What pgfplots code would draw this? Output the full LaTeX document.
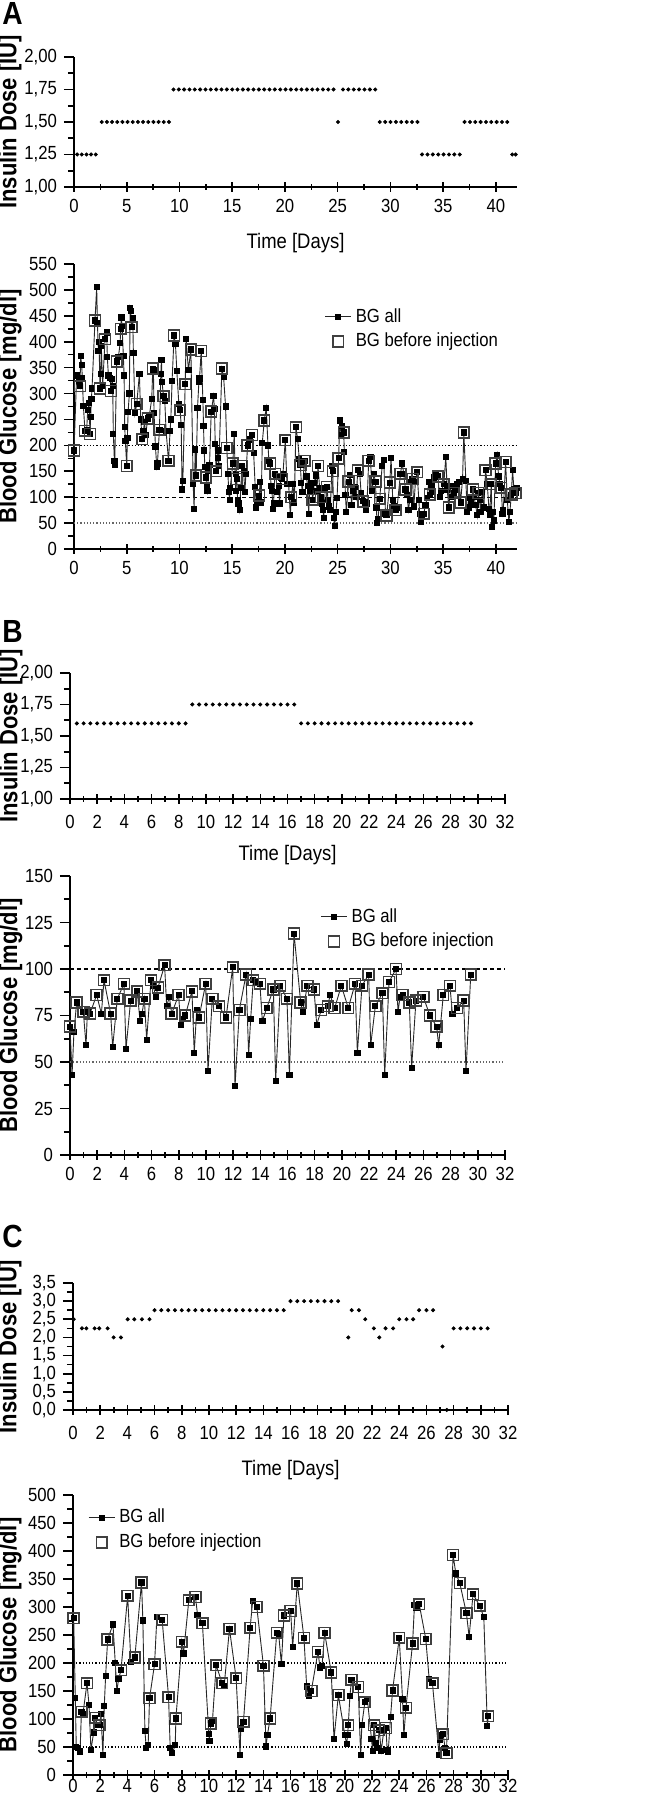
\documentclass[border=0pt]{standalone}
\usepackage{fontspec}
\setmainfont{Liberation Sans}[FakeStretch=0.88]
\usepackage{pgfplots}
\pgfplotsset{compat=1.18}

\pgfplotsset{
  panel/.style={
    scale only axis,
    axis lines=left,
    axis line style={-, line width=0.8pt},
    clip=false,
    xtick align=center, ytick align=outside,
    major tick length=5pt, minor tick length=3pt,
    every tick/.style={black, line width=0.8pt},
    tick label style={font=\fontsize{9.5}{10}\selectfont},
    /pgf/number format/assume math mode=true,
    /pgf/number format/1000 sep={},
    xlabel style={font=\fontsize{10.5}{12}\selectfont, at={(axis description cs:0.5,0)}, anchor=center},
    ylabel style={font=\bfseries\fontsize{12.5}{14}\selectfont, anchor=center},
    legend style={draw=none, fill=none, inner sep=0pt, font=\fontsize{9.5}{11}\selectfont, anchor=north west},
    legend cell align=left,
  },
  dose/.style={panel, minor y tick num=1,
    yticklabel style={/pgf/number format/.cd, fixed, fixed zerofill, precision=2, use comma}},
  bgall/.style={black!85, line width=0.45pt, mark=square*, mark size=1.3pt,
    mark options={solid, fill=black, draw=black},
    legend image code/.code={\draw[mark repeat=2, mark phase=2, ##1] plot coordinates {(0cm,0cm) (0.23cm,0cm) (0.46cm,0cm)};}},
  bgpre/.style={only marks, mark=square, mark size=2.7pt, mark options={draw=black!75, line width=0.8pt},
    legend image code/.code={\path[mark repeat=2, mark phase=2, ##1] plot coordinates {(0cm,0cm) (0.23cm,0cm) (0.46cm,0cm)};}},
  dosept/.style={only marks, mark=*, mark size=0.8pt, black},
  ref200/.style={black, line width=0.6pt, dash pattern=on 0.6pt off 1pt, forget plot},
  ref100/.style={black, line width=0.6pt, dash pattern=on 2pt off 1.5pt, forget plot},
  ref50/.style={black!60, line width=0.6pt, dash pattern=on 0.6pt off 1pt, forget plot},
}

\begin{document}
\begin{tikzpicture}
\useasboundingbox (0,0) rectangle (336pt,900pt);

% ---------------- A ----------------
\node[anchor=north west, inner sep=0pt, font=\bfseries\fontsize{16}{16}\selectfont] at (1pt,899pt) {A};

\begin{axis}[dose, at={(37pt,806.5pt)}, anchor=south west, width=221.5pt, height=65pt,
  xmin=0, xmax=42, ymin=1, ymax=2,
  xtick={0,5,10,15,20,25,30,35,40}, minor x tick num=1,
  ytick={1,1.25,1.5,1.75,2},
  xlabel={Time [Days]}, xlabel style={yshift=-28pt},
  ylabel={Insulin Dose [IU]}, ylabel style={at={(axis description cs:-0.1445,0.5)}}]
\addplot[dosept] coordinates {
(0.30,1.25) (0.74,1.25) (1.18,1.25) (1.62,1.25) (2.06,1.25)
(2.63,1.5) (3.12,1.5) (3.61,1.5) (4.10,1.5) (4.59,1.5) (5.08,1.5) (5.57,1.5)
(6.06,1.5) (6.55,1.5) (7.04,1.5) (7.53,1.5) (8.02,1.5) (8.51,1.5) (9.00,1.5)
(9.43,1.75) (9.94,1.75) (10.44,1.75) (10.95,1.75) (11.45,1.75) (11.96,1.75) (12.47,1.75)
(12.97,1.75) (13.48,1.75) (13.98,1.75) (14.49,1.75) (15.00,1.75) (15.50,1.75) (16.01,1.75)
(16.51,1.75) (17.02,1.75) (17.53,1.75) (18.03,1.75) (18.54,1.75) (19.04,1.75) (19.55,1.75)
(20.06,1.75) (20.56,1.75) (21.07,1.75) (21.57,1.75) (22.08,1.75) (22.59,1.75) (23.09,1.75)
(23.60,1.75) (24.10,1.75) (24.61,1.75)
(25.03,1.5)
(25.50,1.75) (26.01,1.75) (26.52,1.75) (27.03,1.75) (27.54,1.75) (28.05,1.75) (28.56,1.75)
(28.99,1.5) (29.50,1.5) (30.01,1.5) (30.52,1.5) (31.03,1.5) (31.54,1.5) (32.05,1.5) (32.56,1.5)
(33.00,1.25) (33.51,1.25) (34.02,1.25) (34.53,1.25) (35.04,1.25) (35.55,1.25) (36.06,1.25) (36.57,1.25)
(37.03,1.5) (37.54,1.5) (38.04,1.5) (38.55,1.5) (39.06,1.5) (39.56,1.5) (40.07,1.5) (40.58,1.5) (41.08,1.5)
(41.55,1.25) (41.87,1.25)
};
\end{axis}

\begin{axis}[panel, at={(37pt,625.5pt)}, anchor=south west, width=221.5pt, height=142.5pt,
  xmin=0, xmax=42, ymin=0, ymax=550,
  xtick={0,5,10,15,20,25,30,35,40}, minor x tick num=1,
  ytick={0,50,100,150,200,250,300,350,400,450,500,550}, minor y tick num=1,
  ylabel={Blood Glucose [mg/dl]}, ylabel style={at={(axis description cs:-0.1445,0.5)}},
  legend style={at={(axis description cs:0.565,0.86)}}]
\addplot[ref200] coordinates {(0,200) (42,200)};
\addplot[ref100] coordinates {(0,100) (42,100)};
\addplot[ref50] coordinates {(0,50) (42,50)};
\addplot[bgall] coordinates {
(0.00,190) (0.25,335) (0.44,325) (0.57,314) (0.63,372) (0.73,355) (0.79,330) (0.89,276)
(1.04,228) (1.20,230) (1.30,268) (1.42,282) (1.52,222) (1.58,255) (1.65,290) (1.71,310)
(1.99,441) (2.15,505) (2.22,437) (2.31,382) (2.37,400) (2.47,310) (2.53,338) (2.59,392)
(2.72,315) (2.94,405) (3.10,418) (3.16,370) (3.26,335) (3.42,330) (3.51,305) (3.61,328)
(3.67,315) (3.73,222) (3.83,170) (3.86,162) (4.05,362) (4.21,370) (4.37,397) (4.43,425)
(4.49,447) (4.56,430) (4.68,372) (4.75,335) (4.81,235) (4.87,208) (5.00,160) (5.06,215)
(5.13,265) (5.25,300) (5.32,465) (5.38,460) (5.47,428) (5.57,445) (5.63,378) (5.79,262)
(5.95,280) (6.20,338) (6.33,250) (6.46,212) (6.58,228) (6.68,245) (6.80,220) (6.99,252)
(7.15,258) (7.37,290) (7.47,348) (7.53,345) (7.59,262) (7.72,198) (7.85,158) (7.91,165)
(8.10,230) (8.23,338) (8.29,365) (8.35,322) (8.48,295) (8.61,285) (8.73,228) (8.96,170)
(9.11,228) (9.18,250) (9.30,325) (9.49,412) (9.62,395) (9.75,343) (9.94,280) (10.06,268)
(10.16,240) (10.25,115) (10.32,132) (10.54,318) (10.63,405) (10.85,345) (11.08,385)
(11.30,125) (11.39,77) (11.49,192) (11.58,142) (11.71,272) (11.84,322) (11.90,329)
(12.06,382) (12.22,288) (12.28,237) (12.34,190) (12.41,158) (12.50,138) (12.59,120)
(12.66,112) (12.75,150) (12.85,162) (13.01,265) (13.23,295) (13.32,270) (13.39,202)
(13.48,150) (13.61,190) (13.67,175) (13.73,160) (14.02,348) (14.18,333) (14.37,275)
(14.49,195) (14.59,145) (14.68,110) (14.75,95) (14.81,118) (15.06,165) (15.19,222)
(15.32,112) (15.38,145) (15.44,135) (15.51,95) (15.60,88) (15.70,75) (15.82,118)
(15.92,160) (16.08,150) (16.20,110) (16.30,145) (16.46,200) (16.55,210) (16.71,212)
(16.87,220) (17.03,186) (17.18,120) (17.28,80) (17.34,90) (17.55,103) (17.65,130)
(17.75,90) (17.85,205) (18.04,248) (18.23,272) (18.39,200) (18.48,170) (18.61,165)
(18.67,122) (18.77,112) (18.86,78) (18.92,88) (19.05,145) (19.18,140) (19.24,110)
(19.40,122) (19.49,88) (19.62,138) (19.72,135) (19.81,145) (20.03,210) (20.19,125)
(20.35,125) (20.51,65) (20.60,100) (20.76,125) (20.89,90) (21.04,235) (21.20,212)
(21.36,174) (21.46,162) (21.55,128) (21.65,110) (21.84,170) (22.03,140) (22.15,122)
(22.25,68) (22.34,112) (22.41,120) (22.50,127) (22.63,95) (22.78,128) (22.91,142)
(23.04,112) (23.13,160) (23.29,118) (23.42,100) (23.51,88) (23.61,75) (23.67,60)
(23.83,118) (23.99,120) (24.08,95) (24.18,82) (24.30,75) (24.46,160) (24.53,150)
(24.62,60) (24.72,45) (24.84,72) (24.94,98) (25.09,175) (25.19,248) (25.32,220)
(25.41,238) (25.57,225) (25.63,188) (25.73,105) (25.82,72) (26.04,130) (26.20,143)
(26.30,85) (26.46,112) (26.61,120) (26.77,100) (26.90,152) (27.09,145) (27.22,108)
(27.41,92) (27.56,90) (27.66,75) (27.78,88) (27.94,170) (28.10,178) (28.26,112)
(28.42,145) (28.58,130) (28.67,80) (28.73,50) (28.83,58) (28.99,97) (29.21,160)
(29.37,172) (29.53,68) (29.62,65) (29.68,72) (29.94,128) (30.06,175) (30.22,95)
(30.32,82) (30.47,75) (30.63,80) (30.95,145) (31.11,165) (31.27,145) (31.42,115)
(31.58,105) (31.71,75) (31.84,95) (31.96,130) (32.09,135) (32.22,82) (32.37,130)
(32.53,148) (32.69,95) (32.78,68) (32.91,52) (33.01,62) (33.16,68) (33.32,85)
(33.48,98) (33.64,130) (33.73,105) (33.89,122) (33.99,110) (34.11,138) (34.30,142)
(34.49,140) (34.68,100) (34.81,112) (35.06,125) (35.25,178) (35.38,115) (35.54,80)
(35.70,122) (35.82,100) (36.01,108) (36.14,115) (36.33,125) (36.52,130) (36.65,90)
(36.84,135) (36.96,225) (37.15,132) (37.28,72) (37.44,80) (37.53,98) (37.66,90)
(37.82,115) (37.94,100) (38.07,85) (38.23,65) (38.32,108) (38.45,95) (38.54,72)
(38.70,110) (38.86,80) (39.02,152) (39.18,125) (39.34,78) (39.40,65) (39.56,125)
(39.65,42) (39.72,72) (39.81,55) (39.97,165) (40.13,182) (40.25,140) (40.38,125)
(40.51,118) (40.63,68) (40.70,75) (40.92,168) (41.08,95) (41.23,52) (41.33,72)
(41.46,105) (41.58,152) (41.71,115) (41.87,108) (41.98,118)
};
\addlegendentry{BG all}
\addplot[bgpre] coordinates {
(0.00,190) (0.57,314) (1.04,228) (1.52,222) (1.99,441) (2.47,310) (2.94,405) (3.51,305)
(4.05,362) (4.43,425) (5.00,160) (5.47,428) (5.95,280) (6.46,212) (6.99,252) (7.47,348)
(8.10,230) (8.48,295) (8.96,170) (9.49,412) (10.06,268) (10.54,318) (11.08,385) (11.58,142)
(12.06,382) (12.50,138) (13.01,265) (13.48,150) (14.02,348) (14.49,195) (15.06,165)
(15.44,135) (15.92,160) (16.46,200) (16.87,220) (17.55,103) (18.04,248) (18.61,165)
(19.05,145) (19.72,135) (20.03,210) (20.60,100) (21.04,235) (21.46,162) (21.84,170)
(22.63,95) (23.13,160) (23.42,100) (23.99,120) (24.53,150) (25.09,175) (25.57,225)
(26.04,130) (26.46,112) (26.90,152) (27.41,92) (27.94,170) (28.58,130) (28.99,97)
(29.62,65) (29.94,128) (30.47,75) (30.95,145) (31.42,115) (32.09,135) (32.53,148)
(33.16,68) (33.73,105) (34.49,140) (35.06,125) (35.54,80) (36.01,108) (36.65,90)
(36.96,225) (37.82,115) (38.32,108) (39.02,152) (39.56,125) (39.97,165) (40.51,118)
(40.92,168) (41.46,105) (41.87,108)
};
\addlegendentry{BG before injection}
\end{axis}

% ---------------- B ----------------
\node[anchor=north west, inner sep=0pt, font=\bfseries\fontsize{16}{16}\selectfont] at (1pt,590pt) {B};

\begin{axis}[dose, at={(35pt,500.5pt)}, anchor=south west, width=217.5pt, height=63pt,
  xmin=0, xmax=32, ymin=1, ymax=2,
  xtick={0,2,...,32}, minor x tick num=1,
  ytick={1,1.25,1.5,1.75,2},
  xticklabel style={yshift=-2pt},
  xlabel={Time [Days]}, xlabel style={yshift=-28pt},
  ylabel={Insulin Dose [IU]}, ylabel style={at={(axis description cs:-0.136,0.5)}}]
\addplot[dosept] coordinates {
(0.5,1.6) (1.0,1.6) (1.5,1.6) (2.0,1.6) (2.5,1.6) (3.0,1.6) (3.5,1.6) (4.0,1.6) (4.5,1.6)
(5.0,1.6) (5.5,1.6) (6.0,1.6) (6.5,1.6) (7.0,1.6) (7.5,1.6) (8.0,1.6) (8.5,1.6)
(9.0,1.75) (9.5,1.75) (10.0,1.75) (10.5,1.75) (11.0,1.75) (11.5,1.75) (12.0,1.75) (12.5,1.75)
(13.0,1.75) (13.5,1.75) (14.0,1.75) (14.5,1.75) (15.0,1.75) (15.5,1.75) (16.0,1.75) (16.5,1.75)
(17.0,1.6) (17.5,1.6) (18.0,1.6) (18.5,1.6) (19.0,1.6) (19.5,1.6) (20.0,1.6) (20.5,1.6)
(21.0,1.6) (21.5,1.6) (22.0,1.6) (22.5,1.6) (23.0,1.6) (23.5,1.6) (24.0,1.6) (24.5,1.6)
(25.0,1.6) (25.5,1.6) (26.0,1.6) (26.5,1.6) (27.0,1.6) (27.5,1.6) (28.0,1.6) (28.5,1.6)
(29.0,1.6) (29.5,1.6)
};
\end{axis}

\begin{axis}[panel, at={(35pt,322.5pt)}, anchor=south west, width=217.5pt, height=139.5pt,
  xmin=0, xmax=32, ymin=0, ymax=150,
  xtick={0,2,...,32}, minor x tick num=1,
  ytick={0,25,50,75,100,125,150}, minor y tick num=1,
  ylabel={Blood Glucose [mg/dl]}, ylabel style={at={(axis description cs:-0.136,0.5)}},
  legend style={at={(axis description cs:0.575,0.90)}}]
\addplot[ref100] coordinates {(0,100) (32,100)};
\addplot[ref50] coordinates {(0,50) (32,50)};
\addplot[bgall] coordinates {
(0.00,69) (0.15,43) (0.29,66) (0.49,82) (0.98,77) (1.18,59) (1.28,77) (1.47,76) (1.96,86)
(2.31,76) (2.50,94) (2.99,76) (3.14,58) (3.48,84) (3.97,92) (4.12,57) (4.46,83) (4.95,88)
(5.15,72) (5.30,76) (5.47,84) (5.64,62) (5.96,94) (6.13,91) (6.30,85) (6.47,90) (6.96,102)
(7.11,80) (7.31,85) (7.48,76) (7.99,86) (8.14,70) (8.29,73) (8.48,75) (8.97,88) (9.14,55)
(9.32,78) (9.49,74) (9.98,92) (10.15,45) (10.47,84) (10.96,80) (11.48,74) (11.97,101)
(12.14,37) (12.46,78) (12.95,97) (13.14,54) (13.29,73) (13.48,94) (13.65,93) (13.97,92)
(14.15,72) (14.47,79) (14.96,89) (15.13,40) (15.47,91) (15.96,84) (16.14,43) (16.48,119)
(16.97,82) (17.12,77) (17.46,91) (17.95,89) (18.15,70) (18.48,78) (18.97,80) (19.13,86)
(19.47,79) (19.96,91) (20.47,79) (20.97,92) (21.14,55) (21.48,91) (21.97,97) (22.12,59)
(22.46,80) (22.98,87) (23.15,43) (23.47,93) (23.98,100) (24.13,77) (24.28,85) (24.47,86)
(24.96,82) (25.13,47) (25.45,83) (25.99,85) (26.48,75) (26.97,69) (27.12,59) (27.46,86)
(27.95,91) (28.13,76) (28.47,79) (28.96,83) (29.13,45) (29.48,97)
};
\addlegendentry{BG all}
\addplot[bgpre] coordinates {
(0.00,69) (0.49,82) (0.98,77) (1.47,76) (1.96,86) (2.50,94) (2.99,76) (3.48,84) (3.97,92)
(4.46,83) (4.95,88) (5.47,84) (5.96,94) (6.47,90) (6.96,102) (7.48,76) (7.99,86) (8.48,75)
(8.97,88) (9.49,74) (9.98,92) (10.47,84) (10.96,80) (11.48,74) (11.97,101) (12.46,78)
(12.95,97) (13.48,94) (13.97,92) (14.47,79) (14.96,89) (15.47,91) (15.96,84) (16.48,119)
(16.97,82) (17.46,91) (17.95,89) (18.48,78) (18.97,80) (19.47,79) (19.96,91) (20.47,79)
(20.97,92) (21.48,91) (21.97,97) (22.46,80) (22.98,87) (23.47,93) (23.98,100) (24.47,86)
(24.96,82) (25.45,83) (25.99,85) (26.48,75) (26.97,69) (27.46,86) (27.95,91) (28.47,79)
(28.96,83) (29.48,97)
};
\addlegendentry{BG before injection}
\end{axis}

% ---------------- C ----------------
\node[anchor=north west, inner sep=0pt, font=\bfseries\fontsize{16}{16}\selectfont] at (1pt,287.5pt) {C};

\begin{axis}[panel, at={(36.5pt,195pt)}, anchor=south west, width=217.5pt, height=63.5pt,
  xmin=0, xmax=32, ymin=0, ymax=3.5,
  xtick={0,2,...,32}, minor x tick num=1,
  ytick={0,0.5,1,1.5,2,2.5,3,3.5}, minor y tick num=1,
  yticklabel style={/pgf/number format/.cd, fixed, fixed zerofill, precision=1, use comma},
  xticklabel style={yshift=-2pt},
  xlabel={Time [Days]}, xlabel style={yshift=-30pt},
  ylabel={Insulin Dose [IU]}, ylabel style={at={(axis description cs:-0.145,0.5)}}]
\addplot[dosept] coordinates {
(0.05,2.5)
(0.66,2.25) (0.98,2.25) (1.59,2.25) (1.93,2.25) (2.55,2.25)
(2.99,2.0) (3.53,2.0)
(4.02,2.5) (4.51,2.5) (5.07,2.5) (5.63,2.5)
(6.0,2.75) (6.5,2.75) (7.0,2.75) (7.5,2.75) (8.0,2.75) (8.5,2.75) (9.0,2.75) (9.5,2.75)
(10.0,2.75) (10.5,2.75) (11.0,2.75) (11.5,2.75) (12.0,2.75) (12.5,2.75) (13.0,2.75)
(13.5,2.75) (14.0,2.75) (14.5,2.75) (15.0,2.75) (15.5,2.75)
(16.0,3.0) (16.5,3.0) (17.0,3.0) (17.5,3.0) (18.0,3.0) (18.5,3.0) (19.0,3.0) (19.5,3.0)
(20.25,2.0) (20.5,2.75) (21.03,2.75) (21.5,2.5) (22.13,2.25) (22.53,2.0)
(22.99,2.25) (23.55,2.25) (24.0,2.5) (24.53,2.5) (25.02,2.5)
(25.46,2.75) (26.0,2.75) (26.49,2.75) (27.18,1.75) (27.5,0.0)
(28.0,2.25) (28.5,2.25) (29.0,2.25) (29.5,2.25) (30.0,2.25) (30.5,2.25)
};
\end{axis}

\begin{axis}[panel, at={(36.5pt,12.5pt)}, anchor=south west, width=217.5pt, height=140pt,
  xmin=0, xmax=32, ymin=0, ymax=500,
  xtick={0,2,...,32}, minor x tick num=1,
  ytick={0,50,100,150,200,250,300,350,400,450,500}, minor y tick num=1,
  xticklabel style={yshift=4pt},
  ylabel={Blood Glucose [mg/dl]}, ylabel style={at={(axis description cs:-0.145,0.5)}},
  legend style={at={(axis description cs:0.034,0.965)}}]
\addplot[ref200] coordinates {(0,200) (32,200)};
\addplot[ref200] coordinates {(0,50) (32,50)};
\addplot[bgall] coordinates {
(0.05,280) (0.17,137) (0.24,50) (0.34,49) (0.52,42) (0.62,113) (0.73,109) (1.03,164)
(1.18,125) (1.32,45) (1.52,76) (1.64,102) (1.81,89) (1.96,89) (2.06,109) (2.20,36)
(2.30,123) (2.40,177) (2.55,242) (2.94,269) (3.11,200) (3.23,150) (3.35,171) (3.53,187)
(4.02,320) (4.26,202) (4.55,210) (5.04,344) (5.14,276) (5.29,79) (5.39,48) (5.53,54)
(5.63,137) (6.00,198) (6.17,282) (6.56,277) (7.03,139) (7.15,48) (7.30,39) (7.52,53)
(7.57,101) (8.01,238) (8.13,217) (8.52,312) (9.01,318) (9.16,286) (9.52,271) (9.99,74)
(10.04,61) (10.14,92) (10.26,97) (10.53,196) (10.97,164) (11.12,159) (11.51,261)
(12.00,173) (12.29,36) (12.34,83) (12.54,95) (13.03,263) (13.22,311) (13.52,300)
(14.01,195) (14.20,51) (14.30,71) (14.50,101) (14.99,254) (15.13,252) (15.33,198)
(15.52,285) (16.01,293) (16.16,228) (16.50,342) (16.99,245) (17.19,158) (17.34,141)
(17.53,150) (18.02,220) (18.17,192) (18.32,195) (18.51,254) (19.00,183) (19.20,64)
(19.52,143) (20.00,71) (20.13,55) (20.20,71) (20.25,89) (20.37,141) (20.49,170)
(20.98,157) (21.16,36) (21.25,90) (21.47,130) (21.65,136) (21.96,64) (22.04,43)
(22.14,89) (22.28,57) (22.38,49) (22.53,80) (22.67,43) (22.87,80) (23.02,84) (23.11,45)
(23.19,42) (23.36,104) (23.51,151) (24.00,245) (24.24,136) (24.34,71) (24.49,120)
(24.98,235) (25.12,304) (25.27,298) (25.47,305) (25.95,243) (26.20,172) (26.44,164)
(26.93,36) (26.98,62) (27.08,71) (27.23,73) (27.37,48) (27.47,39) (27.96,393)
(28.16,360) (28.45,343) (28.94,289) (29.14,247) (29.43,323) (29.92,302) (30.22,282)
(30.48,87) (30.55,105)
};
\addlegendentry{BG all}
\addplot[bgpre] coordinates {
(0.05,280) (0.62,113) (1.03,164) (1.64,102) (1.96,89) (2.55,242) (3.53,187) (4.02,320)
(4.55,210) (5.04,344) (5.63,137) (6.00,198) (6.56,277) (7.03,139) (7.57,101) (8.01,238)
(8.52,312) (9.01,318) (9.52,271) (10.14,92) (10.53,196) (10.97,164) (11.51,261)
(12.00,173) (12.54,95) (13.03,263) (13.52,300) (14.01,195) (14.50,101) (14.99,254)
(15.52,285) (16.01,293) (16.50,342) (16.99,245) (17.53,150) (18.02,220) (18.51,254)
(19.00,183) (19.52,143) (20.25,89) (20.49,170) (20.98,157) (21.47,130) (22.14,89)
(22.53,80) (23.02,84) (23.51,151) (24.00,245) (24.49,120) (24.98,235) (25.47,305)
(25.95,243) (26.44,164) (27.23,73) (27.47,39) (27.96,393) (28.45,343) (28.94,289)
(29.43,323) (29.92,302) (30.55,105)
};
\addlegendentry{BG before injection}
\end{axis}
\end{tikzpicture}
\end{document}
